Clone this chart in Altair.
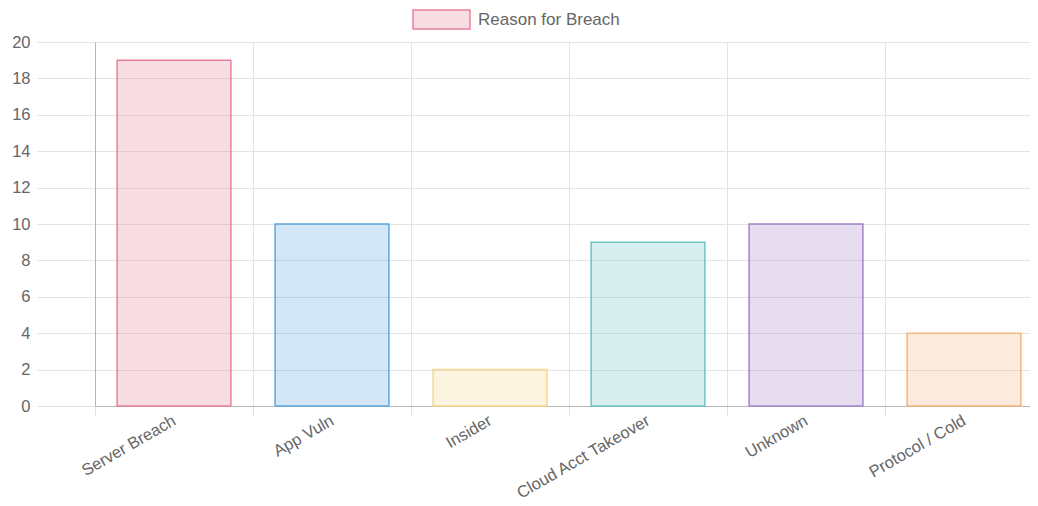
import altair as alt
import pandas as pd

categories = ["Server Breach", "App Vuln", "Insider", "Cloud Acct Takeover", "Unknown", "Protocol / Cold"]
values = [19, 10, 2, 9, 10, 4]
border_colors = ["#e8809a", "#5fa8de", "#f5d88e", "#6cc4c4", "#a382c9", "#f3b57c"]
series_label = ["Reason for Breach"]
y_ticks = [0, 2, 4, 6, 8, 10, 12, 14, 16, 18, 20]

df = pd.DataFrame({"reason": categories, "count": values})
legend_df = pd.DataFrame({"label": series_label})

FONT = "Liberation Sans"
GRID = "#e3e3e3"
DOMAIN = "#b5b5b5"
LABEL = "#666666"

x_enc = alt.X(
    "reason:N",
    sort=categories,
    scale=alt.Scale(paddingInner=0, paddingOuter=0, range=[0, 948]),
    axis=alt.Axis(
        title=None, grid=True, tickBand="extent",
        labelAngle=-30, labelAlign="right", labelBaseline="middle",
        labelPadding=3, tickSize=10, tickColor=GRID, gridColor=GRID,
        domainColor=DOMAIN, labelColor=LABEL, labelFontSize=16.5, labelFont=FONT,
    ),
)
y_enc = alt.Y(
    "count:Q",
    scale=alt.Scale(domain=[0, 20], nice=False),
    axis=alt.Axis(
        values=y_ticks, title=None, grid=True, tickSize=58, tickColor=GRID,
        gridColor=GRID, domainColor=DOMAIN, labelPadding=7, labelColor=LABEL,
        labelFontSize=16.5, labelFont=FONT,
    ),
)

bars = alt.Chart(df).mark_bar(
    width=alt.RelativeBandSize(0.72), fillOpacity=0.27, strokeWidth=1.5
).encode(
    x=x_enc,
    y=y_enc,
    color=alt.Color("reason:N", sort=categories,
                    scale=alt.Scale(domain=categories, range=border_colors), legend=None),
    stroke=alt.Stroke("reason:N", sort=categories,
                      scale=alt.Scale(domain=categories, range=border_colors), legend=None),
)

legend_box = alt.Chart(legend_df).mark_rect(
    fill=border_colors[0], fillOpacity=0.27, stroke=border_colors[0], strokeWidth=1.5
).encode(
    x=alt.value(318), x2=alt.value(375), y=alt.value(-32), y2=alt.value(-13)
)
legend_text = alt.Chart(legend_df).mark_text(
    align="left", baseline="middle", font=FONT, fontSize=17, color=LABEL
).encode(
    x=alt.value(383), y=alt.value(-22), text="label:N"
)

chart = (
    alt.layer(bars, legend_box, legend_text)
    .properties(width=935, height=364,
                autosize=alt.AutoSizeParams(type="none"),
                padding={"left": 87, "top": 34, "right": 0, "bottom": 96},
                background="white")
    .configure_view(stroke=None)
)

chart.save("out.html", embed_options={"renderer": "svg", "actions": False})
